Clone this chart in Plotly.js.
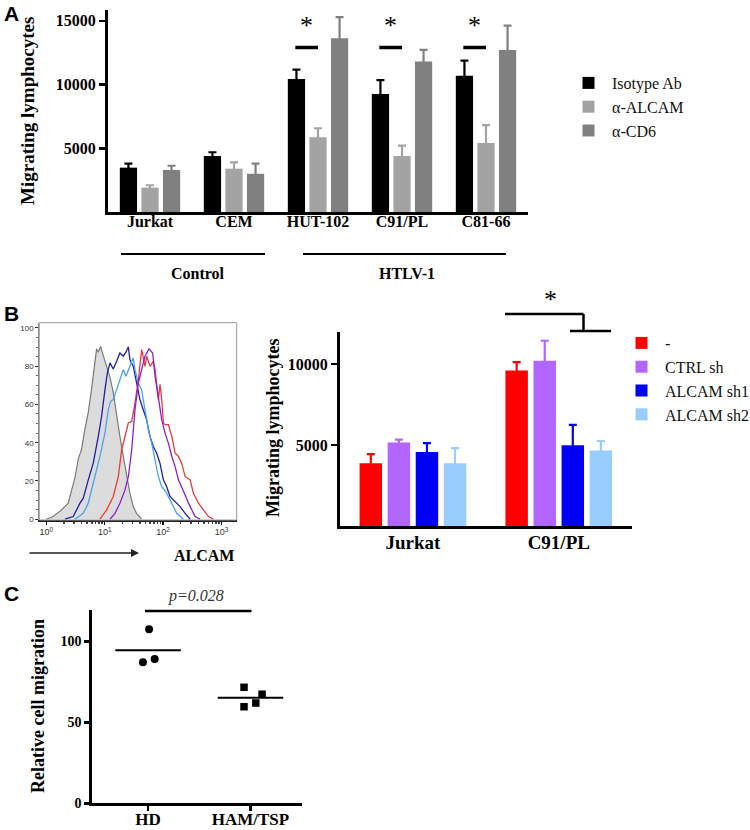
<!DOCTYPE html>
<html>
<head>
<meta charset="utf-8">
<script src="https://cdn.plot.ly/plotly-3.0.1.min.js"></script>
<style>html,body{margin:0;padding:0;background:#fff;}#chart{width:750px;height:830px;}</style>
</head>
<body>
<div id="chart"></div>
<script>
// ---------- Panel A data ----------
const catsA = ['Jurkat', 'CEM', 'HUT-102', 'C91/PL', 'C81-66'];
const isoA = [3480, 4400, 10440, 9260, 10700];
const isoErrA = [310, 290, 730, 1080, 1180];
const alcamA = [1910, 3400, 5860, 4400, 5420];
const alcamErrA = [190, 500, 710, 810, 1390];
const cd6A = [3300, 3000, 13630, 11800, 12720];
const cd6ErrA = [330, 790, 1660, 920, 1900];
const yTicksA = [5000, 10000, 15000];

// ---------- Panel B histogram data (ALCAM intensity, % of max) ----------
const isoHistX = [1.0, 1.31, 1.82, 2.37, 2.71, 3.09, 3.52, 4.02, 4.58, 5.23, 5.96, 6.79, 7.26, 7.76, 8.51, 9.46, 10.8, 12.3, 14.0, 16.0, 18.2, 20.8, 23.7, 27.0, 30.8, 35.1, 42.8];
const isoHistY = [0, 1.4, 4.9, 8.4, 15.2, 21.6, 31.4, 36.6, 47.1, 55.8, 68.1, 80.3, 89.0, 87.3, 90.3, 85.5, 80.3, 74.3, 66.3, 53.8, 43.3, 32.8, 22.3, 13.6, 6.6, 3.1, 0];
const sh1HistX = [2.09, 2.89, 3.77, 4.30, 5.23, 6.37, 7.76, 8.85, 10.1, 11.1, 12.3, 14.0, 16.0, 18.2, 20.8, 23.1, 25.4, 27.0, 30.8, 35.1, 40.1, 45.7, 52.1, 59.6, 67.9, 77.4, 88.3, 101, 115, 131, 171, 195, 238, 290];
const sh1HistY = [0, 1.4, 8.4, 11.0, 20.6, 29.3, 43.3, 53.8, 67.7, 76.4, 81.7, 78.5, 82.5, 86.9, 85.2, 87.3, 90.1, 83.4, 80.0, 71.2, 62.5, 57.2, 52.0, 43.3, 38.0, 34.6, 29.3, 20.6, 17.1, 11.9, 8.4, 6.6, 3.1, 0];
const sh2HistX = [3.09, 4.30, 5.23, 6.81, 8.28, 10.1, 11.5, 12.6, 14.0, 16.0, 18.2, 20.8, 23.1, 27.0, 30.8, 33.0, 37.6, 42.8, 48.8, 55.8, 63.7, 72.6, 82.8, 94.4, 115, 140, 171, 223];
const sh2HistY = [0, 3.1, 8.4, 22.3, 32.8, 45.0, 57.2, 61.6, 62.5, 67.7, 73.0, 78.2, 74.7, 79.9, 84.3, 78.2, 71.2, 67.7, 57.2, 46.8, 39.8, 31.1, 22.3, 17.1, 13.6, 8.4, 3.1, 0];
const noneHistX = [8.28, 10.8, 14.0, 17.1, 19.5, 22.2, 25.4, 29.0, 33.0, 37.7, 42.9, 49.0, 52.3, 59.7, 68.1, 72.8, 83.0, 88.5, 94.7, 101, 108, 123, 141, 160, 183, 208, 238, 290, 330, 403, 491, 598, 730];
const noneHistY = [0, 4.9, 11.9, 22.3, 36.3, 43.3, 50.3, 51.1, 60.7, 72.9, 88.6, 79.9, 85.2, 79.9, 82.5, 78.2, 62.5, 70.5, 62.5, 50.3, 49.4, 49.4, 43.3, 34.6, 32.8, 29.3, 22.3, 20.6, 13.6, 8.4, 4.9, 1.4, 0];
const ctrlHistX = [12.3, 15.0, 18.2, 22.2, 25.4, 29.0, 33.0, 37.7, 42.9, 49.0, 57.3, 66.2, 72.8, 83.0, 94.7, 108, 123, 141, 160, 183, 208, 238, 272, 310, 353, 431];
const ctrlHistY = [0, 3.1, 8.4, 15.2, 22.3, 36.3, 57.2, 71.2, 78.2, 85.2, 89.0, 86.9, 74.7, 62.5, 52.0, 45.0, 39.8, 32.8, 27.6, 20.6, 17.1, 12.7, 8.4, 4.9, 1.4, 0];
const histXTicks = [1, 10, 100, 1000];
const histXTickText = ['10<sup>0</sup>', '10<sup>1</sup>', '10<sup>2</sup>', '10<sup>3</sup>'];
const histYTicks = [0, 20, 40, 60, 80, 100];

// ---------- Panel B bar data ----------
const catsB = ['Jurkat', 'C91/PL'];
const noneB = [3870, 9610];
const noneErrB = [570, 510];
const ctrlB = [5160, 10200];
const ctrlErrB = [170, 1240];
const sh1B = [4570, 4980];
const sh1ErrB = [550, 1270];
const sh2B = [3870, 4670];
const sh2ErrB = [940, 580];
const yTicksB = [5000, 10000];

// ---------- Panel C data ----------
const catsC = ['HD', 'HAM/TSP'];
const hdVals = [107.4, 87.0, 89.1];
const hdPos = [0.01, -0.05, 0.065];
const hamVals = [71.6, 59.6, 61.9, 67.3];
const hamPos = [0.937, 0.937, 1.052, 1.113];
const yTicksC = [0, 50, 100];

// ---------- helpers ----------
const W = 750, H = 830;
const fx = p => p / W;
const fy = p => 1 - p / H;
const SERIF = 'Liberation Serif, Times New Roman, serif';
const SANS = 'Liberation Sans, Arial, sans-serif';
const bold = (size) => ({family: SERIF, size: size, color: '#000', weight: 'bold'});
const mean = a => a.reduce((s, v) => s + v, 0) / a.length;

const cIso = '#000000', cAlcam = '#a3a3a3', cCd6 = '#808080';
const cNone = '#ff0000', cCtrl = '#b266ff', cSh1 = '#0000f2', cSh2 = '#99ccff';

function barTrace(name, x, y, err, color, xa, ya, legend) {
  return {
    type: 'bar', name: name, x: x, y: y, marker: {color: color, line: {width: 0}},
    error_y: {type: 'data', array: err, visible: true, color: color, thickness: 2.2, width: 4},
    xaxis: xa, yaxis: ya, legend: legend
  };
}

const traces = [
  barTrace('Isotype Ab', catsA, isoA, isoErrA, cIso, 'x', 'y', 'legend'),
  barTrace('α-ALCAM', catsA, alcamA, alcamErrA, cAlcam, 'x', 'y', 'legend'),
  barTrace('α-CD6', catsA, cd6A, cd6ErrA, cCd6, 'x', 'y', 'legend'),

  {type: 'scatter', mode: 'lines', x: isoHistX, y: isoHistY, fill: 'tozeroy', fillcolor: '#dcdcdc',
   line: {color: '#7a7a7a', width: 1.2}, xaxis: 'x2', yaxis: 'y2', showlegend: false, name: 'Isotype'},
  {type: 'scatter', mode: 'lines', x: sh1HistX, y: sh1HistY, line: {color: '#1e1ea8', width: 1.3},
   xaxis: 'x2', yaxis: 'y2', showlegend: false, name: 'ALCAM sh1'},
  {type: 'scatter', mode: 'lines', x: sh2HistX, y: sh2HistY, line: {color: '#4aa3ec', width: 1.3},
   xaxis: 'x2', yaxis: 'y2', showlegend: false, name: 'ALCAM sh2'},
  {type: 'scatter', mode: 'lines', x: noneHistX, y: noneHistY, line: {color: '#ec3a3a', width: 1.3},
   xaxis: 'x2', yaxis: 'y2', showlegend: false, name: '-'},
  {type: 'scatter', mode: 'lines', x: ctrlHistX, y: ctrlHistY, line: {color: '#8a1ed8', width: 1.3},
   xaxis: 'x2', yaxis: 'y2', showlegend: false, name: 'CTRL sh'},

  barTrace('-', catsB, noneB, noneErrB, cNone, 'x3', 'y3', 'legend2'),
  barTrace('CTRL sh', catsB, ctrlB, ctrlErrB, cCtrl, 'x3', 'y3', 'legend2'),
  barTrace('ALCAM sh1', catsB, sh1B, sh1ErrB, cSh1, 'x3', 'y3', 'legend2'),
  barTrace('ALCAM sh2', catsB, sh2B, sh2ErrB, cSh2, 'x3', 'y3', 'legend2'),

  {type: 'scatter', mode: 'markers', x: hdPos, y: hdVals, marker: {symbol: 'circle', size: 8, color: '#000'},
   xaxis: 'x4', yaxis: 'y4', showlegend: false, name: 'HD', cliponaxis: false},
  {type: 'scatter', mode: 'markers', x: hamPos, y: hamVals, marker: {symbol: 'square', size: 7.5, color: '#000'},
   xaxis: 'x4', yaxis: 'y4', showlegend: false, name: 'HAM/TSP', cliponaxis: false},
  {type: 'scatter', mode: 'lines', x: [-0.32, 0.32], y: [mean(hdVals), mean(hdVals)], line: {color: '#000', width: 2},
   xaxis: 'x4', yaxis: 'y4', showlegend: false, hoverinfo: 'skip'},
  {type: 'scatter', mode: 'lines', x: [0.68, 1.32], y: [mean(hamVals), mean(hamVals)], line: {color: '#000', width: 2},
   xaxis: 'x4', yaxis: 'y4', showlegend: false, hoverinfo: 'skip'}
];

function ann(o) {
  return Object.assign({xref: 'paper', yref: 'paper', xanchor: 'center', yanchor: 'middle', showarrow: false}, o);
}

const annotations = [
  ann({text: 'A', x: fx(2), y: fy(13), xanchor: 'left', font: {family: SANS, size: 21, color: '#000', weight: 'bold'}}),
  ann({text: 'B', x: fx(2), y: fy(313), xanchor: 'left', font: {family: SANS, size: 21, color: '#000', weight: 'bold'}}),
  ann({text: 'C', x: fx(2), y: fy(593), xanchor: 'left', font: {family: SANS, size: 21, color: '#000', weight: 'bold'}}),

  ann({text: 'Migrating lymphocytes', textangle: -90, x: fx(27), y: fy(111), font: bold(19)}),
  ann({text: 'Control', x: fx(198), y: fy(273), font: bold(16)}),
  ann({text: 'HTLV-1', x: fx(407), y: fy(273), font: bold(16)}),

  {text: '', x: fx(139), y: fy(553), ax: fx(28), ay: fy(553), xref: 'paper', yref: 'paper', axref: 'paper', ayref: 'paper',
   showarrow: true, arrowhead: 2, arrowsize: 1, arrowwidth: 1.6, arrowcolor: '#222'},
  ann({text: 'ALCAM', x: fx(204), y: fy(555), font: bold(16)}),

  ann({text: 'Migrating lymphocytes', textangle: -90, x: fx(273), y: fy(428), font: bold(18)}),
  ann({text: '*', x: fx(550), y: fy(299), font: {family: SERIF, size: 26, color: '#000'}}),

  ann({text: 'Relative cell migration', textangle: -90, x: fx(38), y: fy(706), font: bold(18)}),
  ann({text: '<i>p=0.028</i>', x: fx(196), y: fy(596), font: {family: SERIF, size: 16, color: '#333'}})
];

// significance stars for panel A (HUT-102, C91/PL, C81-66)
[2, 3, 4].forEach(i => {
  annotations.push(ann({text: '*', x: i - 0.14, xref: 'x', y: fy(26), font: {family: SERIF, size: 26, color: '#000'}}));
});

const shapes = [
  // group lines panel A
  {type: 'line', xref: 'paper', yref: 'paper', x0: fx(121), x1: fx(265), y0: fy(254), y1: fy(254), line: {color: '#000', width: 1.8}},
  {type: 'line', xref: 'paper', yref: 'paper', x0: fx(303), x1: fx(506), y0: fy(254), y1: fy(254), line: {color: '#000', width: 1.8}},
  // histogram frame
  {type: 'rect', xref: 'paper', yref: 'paper', x0: fx(39.3), x1: fx(236.7), y0: fy(520), y1: fy(322.7),
   line: {color: '#9a9a9a', width: 1}, fillcolor: 'rgba(0,0,0,0)'},
  // panel B bracket
  {type: 'line', xref: 'paper', yref: 'paper', x0: fx(505), x1: fx(583.5), y0: fy(314), y1: fy(314), line: {color: '#000', width: 2.5}},
  {type: 'line', xref: 'paper', yref: 'paper', x0: fx(583.5), x1: fx(583.5), y0: fy(314), y1: fy(331), line: {color: '#000', width: 2.5}},
  {type: 'line', xref: 'paper', yref: 'paper', x0: fx(570), x1: fx(611), y0: fy(331), y1: fy(331), line: {color: '#000', width: 2.5}},
  // panel C significance line
  {type: 'line', xref: 'x4', yref: 'paper', x0: -0.03, x1: 1.01, y0: fy(611), y1: fy(611), line: {color: '#000', width: 2.5}}
];
// panel A significance lines
[2, 3, 4].forEach(i => {
  shapes.push({type: 'line', xref: 'x', yref: 'paper', x0: i - 0.27, x1: i, y0: fy(47.5), y1: fy(47.5),
    line: {color: '#000', width: 3.5}});
});

const layout = {
  width: W, height: H,
  margin: {l: 0, r: 0, t: 0, b: 0, autoexpand: false},
  paper_bgcolor: '#fff', plot_bgcolor: 'rgba(0,0,0,0)',
  barmode: 'group', bargap: 0.23, bargroupgap: 0.2,
  showlegend: true,
  hovermode: false,
  xaxis: {domain: [fx(108), fx(528)], anchor: 'y', type: 'category', range: [-0.5, 4.5],
    showline: true, linewidth: 3, linecolor: '#000', ticks: '', showgrid: false, zeroline: false,
    tickfont: bold(16), ticklabelstandoff: -7},
  yaxis: {domain: [fy(212), fy(10)], anchor: 'x', range: [0, 15850], tickvals: yTicksA, tickformat: 'd',
    showline: true, linewidth: 3, linecolor: '#000', ticks: 'outside', ticklen: 6, tickwidth: 2.5, tickcolor: '#000',
    showgrid: false, zeroline: false, tickfont: bold(16)},

  xaxis2: {domain: [fx(39.3), fx(236.7)], anchor: 'y2', type: 'log', range: [-0.12, 3.26],
    tickvals: histXTicks, ticktext: histXTickText, ticks: 'outside', ticklen: 3, tickwidth: 1.5, tickcolor: '#111',
    showline: true, linecolor: '#222', linewidth: 1.5, showgrid: false, zeroline: false,
    tickfont: {family: SANS, size: 9, color: '#333'},
    minor: {ticks: 'outside', ticklen: 2, tickcolor: '#444', tickvals: [2,3,4,5,6,7,8,9,20,30,40,50,60,70,80,90,200,300,400,500,600,700,800,900]}},
  yaxis2: {domain: [fy(520), fy(322.7)], anchor: 'x2', range: [-0.4, 102.7], tickvals: histYTicks,
    ticks: 'outside', ticklen: 3, tickwidth: 1, tickcolor: '#333',
    showline: true, linecolor: '#888', linewidth: 1, showgrid: false, zeroline: false,
    tickfont: {family: SANS, size: 8, color: '#333'},
    minor: {ticks: 'outside', ticklen: 2, tickcolor: '#666', dtick: 5}},

  xaxis3: {domain: [fx(340), fx(631.7)], anchor: 'y3', type: 'category', range: [-0.5, 1.5],
    showline: true, linewidth: 3, linecolor: '#000', ticks: '', showgrid: false, zeroline: false,
    tickfont: bold(19), ticklabelstandoff: -3},
  yaxis3: {domain: [fy(526), fy(331.7)], anchor: 'x3', range: [0, 12000], tickvals: yTicksB, tickformat: 'd',
    showline: true, linewidth: 3, linecolor: '#000', ticks: 'outside', ticklen: 6, tickwidth: 2.5, tickcolor: '#000',
    showgrid: false, zeroline: false, tickfont: bold(16)},

  xaxis4: {domain: [fx(91.7), fx(301.7)], anchor: 'y4', range: [-0.55, 1.5], tickvals: [0, 1], ticktext: catsC,
    showline: true, linewidth: 2.5, linecolor: '#000', ticks: 'outside', ticklen: 5, tickwidth: 2.5, tickcolor: '#000',
    showgrid: false, zeroline: false, tickfont: bold(17), ticklabelstandoff: -6},
  yaxis4: {domain: [fy(803.3), fy(610)], anchor: 'x4', range: [0, 119.3], tickvals: yTicksC,
    showline: true, linewidth: 2.5, linecolor: '#000', ticks: 'outside', ticklen: 5, tickwidth: 2.5, tickcolor: '#000',
    showgrid: false, zeroline: false, tickfont: bold(14)},

  legend: {x: fx(565), y: fy(66), xanchor: 'left', yanchor: 'top', bgcolor: 'rgba(0,0,0,0)',
    font: {family: SERIF, size: 16, color: '#111'}, tracegroupgap: 0, itemwidth: 37},
  legend2: {x: fx(618), y: fy(326), xanchor: 'left', yanchor: 'top', bgcolor: 'rgba(0,0,0,0)',
    font: {family: SERIF, size: 16, color: '#111'}, tracegroupgap: 0, itemwidth: 37},

  annotations: annotations,
  shapes: shapes
};

Plotly.newPlot('chart', traces, layout, {displayModeBar: false, staticPlot: true});
</script>
</body>
</html>
